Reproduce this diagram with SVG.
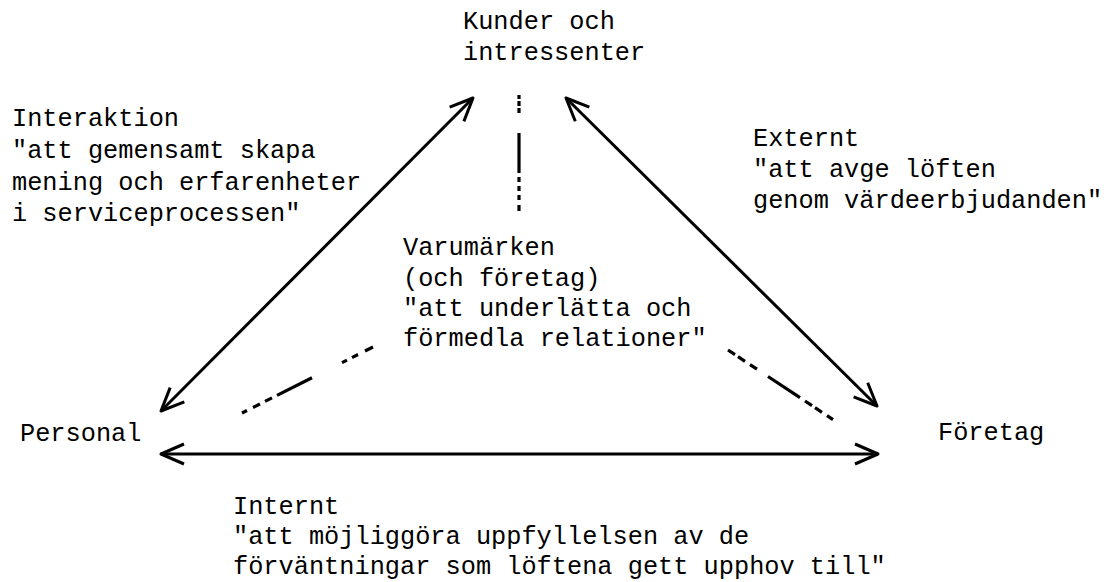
<svg xmlns="http://www.w3.org/2000/svg" width="1110" height="582" viewBox="0 0 1110 582">
  <defs>
    <style>
      text { font-family: "Liberation Mono", "Courier New", monospace; font-size: 25.3px; fill: #000; }
      .edge { fill: none; stroke: #000; stroke-width: 3; }
      .dash { fill: none; stroke: #000; stroke-width: 3.2; stroke-linecap: butt; }
    </style>
    <marker id="arrow" markerUnits="userSpaceOnUse" orient="auto-start-reverse" refX="0" refY="0" markerWidth="40" markerHeight="40" viewBox="-30 -20 40 40" overflow="visible">
      <path d="M-23,-10 L0,0 L-23,10" fill="none" stroke="#000" stroke-width="3" stroke-linejoin="round"/>
    </marker>
  </defs>
  <rect width="1110" height="582" fill="#fff"/>

  <!-- connectors -->
  <g id="connectors">
    <!-- Personal <-> Kunder -->
    <line class="edge" x1="161" y1="411" x2="473" y2="98" marker-start="url(#arrow)" marker-end="url(#arrow)"/>
    <!-- Kunder <-> Företag -->
    <line class="edge" x1="566" y1="98" x2="877" y2="406" marker-start="url(#arrow)" marker-end="url(#arrow)"/>
    <!-- Personal <-> Företag -->
    <line class="edge" x1="161" y1="454" x2="878" y2="454" marker-start="url(#arrow)" marker-end="url(#arrow)"/>
    <!-- dash-dot lines towards the brand in the middle -->
    <path class="dash" d="M519,95 V99 M519,101 V106 M519,108 V113 M519,133 V173 M519,177 V182 M519,186 V191 M519,195 V200 M519,205 V211"/>
    <path class="dash" d="M242,413 L247,410.5 M253,407.5 L260,404 M265,401.4 L272,397.9 M277,395.4 L312,377.7 M342,362.6 L347,360.1 M352,357.6 L358,354.5 M365,351 L373,347"/>
    <path class="dash" d="M728,350 L735,354.6 M738,356.6 L745,361.3 M750,364.6 L757,369.2 M768,376.5 L800,397.7 M805,401 L812,405.7 M815,407.7 L822,412.3 M827,415.6 L833,419.6"/>
  </g>

  <!-- nodes -->
  <g id="node-kunder">
    <text x="463" y="29">Kunder och</text>
    <text x="463" y="60">intressenter</text>
  </g>
  <g id="node-personal">
    <text x="20" y="441">Personal</text>
  </g>
  <g id="node-foretag">
    <text x="938" y="440">Företag</text>
  </g>
  <g id="node-varumarken">
    <text x="403" y="255">Varumärken</text>
    <text x="403" y="286">(och företag)</text>
    <text x="403" y="316">"att underlätta och</text>
    <text x="403" y="346">förmedla relationer"</text>
  </g>

  <!-- edge labels -->
  <g id="label-interaktion">
    <text x="12" y="126">Interaktion</text>
    <text x="12" y="158">"att gemensamt skapa</text>
    <text x="12" y="190">mening och erfarenheter</text>
    <text x="12" y="221">i serviceprocessen"</text>
  </g>
  <g id="label-externt">
    <text x="753" y="146">Externt</text>
    <text x="753" y="177">"att avge löften</text>
    <text x="753" y="208">genom värdeerbjudanden"</text>
  </g>
  <g id="label-internt">
    <text x="233" y="514">Internt</text>
    <text x="233" y="544">"att möjliggöra uppfyllelsen av de</text>
    <text x="233" y="574">förväntningar som löftena gett upphov till"</text>
  </g>
</svg>
